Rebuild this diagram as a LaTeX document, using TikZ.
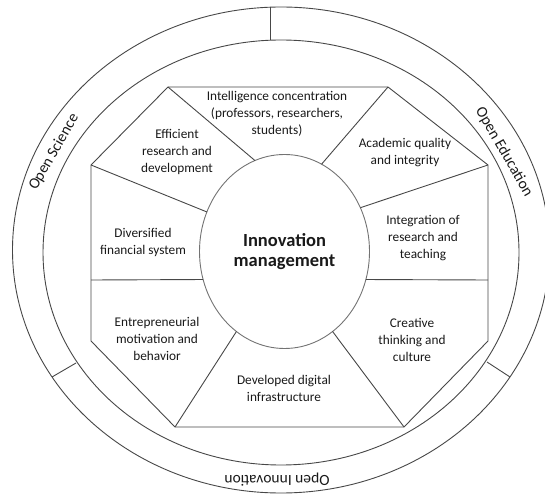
\documentclass[tikz,border=0pt]{standalone}
\usepackage{fontspec}
\setmainfont{Carlito}
\usepackage{tikz}
\usetikzlibrary{shapes.geometric}

\begin{document}
\begin{tikzpicture}[x=1pt,y=1pt,
  octline/.style={draw=black!72, line width=0.9pt},
  rimline/.style={draw=black!72, line width=0.9pt},
  part/.style={align=center, font=\fontsize{13.3}{17}\selectfont, text=black!90},
  ringlabel/.style={font=\fontsize{15.5}{17}\selectfont, text=black!90, inner sep=0pt}]
\useasboundingbox (0,0) rectangle (545,495);
% outer ring with its three sectors
\draw[rimline] (281,245) ellipse [x radius=268.5, y radius=243];
\draw[rimline] (281,242.5) ellipse [x radius=238, y radius=212.5];
\draw[rimline] (270,488) -- (270,455);
\draw[rimline] (52,118) -- (76,132);
\draw[rimline] (487,133) -- (510,118);
\node[ringlabel, rotate=60] (osci) at (54,343) {Open Science};
\node[ringlabel, rotate=-60] (oedu) at (504,343) {Open Education};
\node[ringlabel, rotate=180] (oinn) at (277,15.5) {Open Innovation};
% octagon corners
\coordinate (tl) at (168,408);
\coordinate (tr) at (388,408);
\coordinate (rt) at (488,330);
\coordinate (rb) at (488,154);
\coordinate (br) at (404,68);
\coordinate (bl) at (175,68);
\coordinate (lb) at (91,154);
\coordinate (lt) at (91,330);
\coordinate (ld) at (91,215);
\coordinate (rd) at (488,215);
\draw[octline] (tl) -- (tr) -- (rt) -- (rb) -- (br) -- (bl) -- (lb) -- (lt) -- cycle;
% core
\node[draw=black!55, line width=0.9pt, ellipse, minimum width=170pt, minimum height=194pt, inner sep=0pt, outer sep=0pt, align=center, font=\fontsize{18.5}{20}\selectfont\bfseries, text=black!90] (core) at (284.5,243.5) {Innovation\\management};
% spokes
\draw[octline] (tl) -- (core.108);
\draw[octline] (tr) -- (core.67);
\draw[octline] (lt) -- (core.153);
\draw[octline] (rt) -- (core.30);
\draw[octline] (ld) -- (core.199);
\draw[octline] (rd) -- (core.341);
\draw[octline] (bl) -- (core.239);
\draw[octline] (br) -- (core.301);
% segment texts
\node[part] (intel) at (277,381) {Intelligence concentration\\(professors, researchers,\\students)};
\node[part] (effic) at (177,343) {Efficient\\research and\\development};
\node[part] (finan) at (143,253) {Diversified\\financial system};
\node[part] (entre) at (157,156) {Entrepreneurial\\motivation and\\behavior};
\node[part] (digit) at (284,107) {Developed digital\\infrastructure};
\node[part] (creat) at (412,155) {Creative\\thinking and\\culture};
\node[part] (integ) at (423,257) {Integration of\\research and\\teaching};
\node[part] (acad) at (405,342) {Academic quality\\and integrity};
\end{tikzpicture}
\end{document}
